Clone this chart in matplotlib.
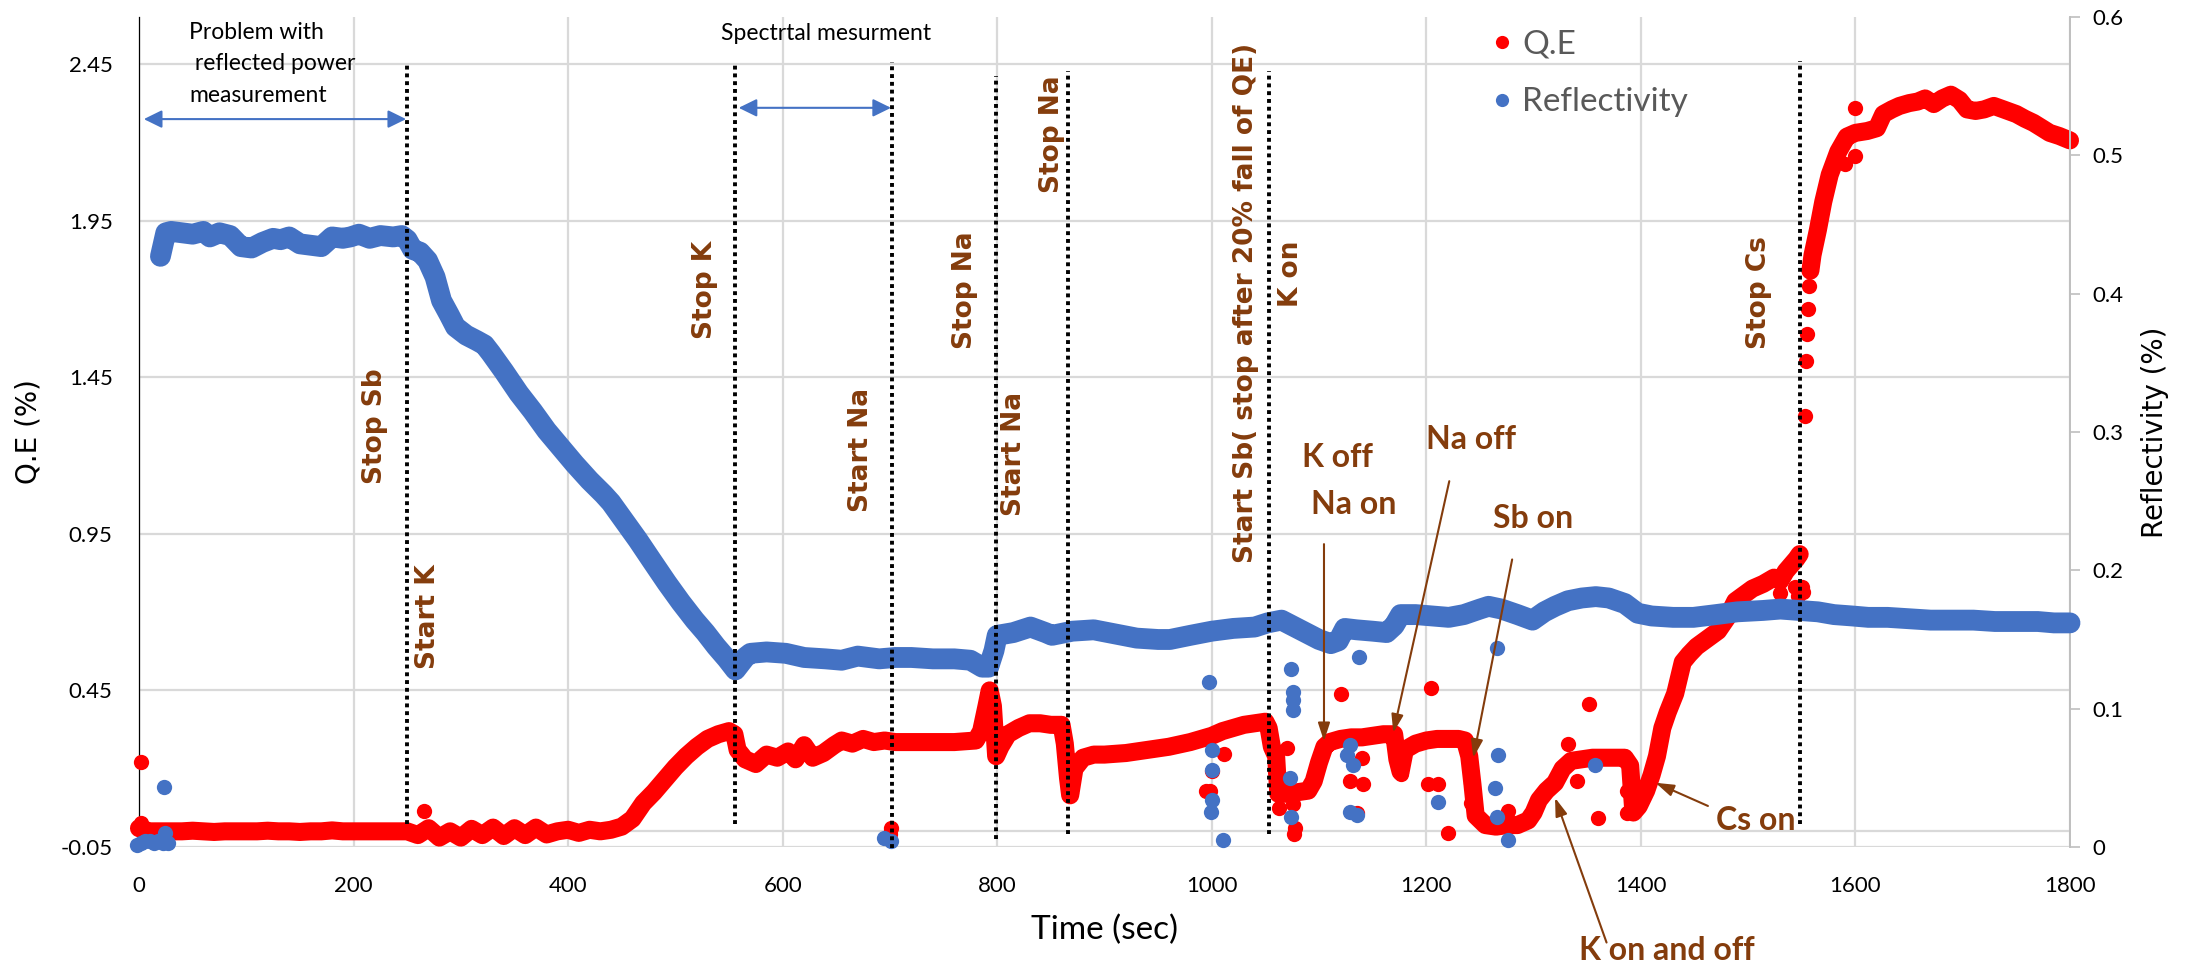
import matplotlib
matplotlib.use("Agg")
import matplotlib.pyplot as plt
from matplotlib.lines import Line2D

RED = "#FF0000"
BLUE = "#4472C4"
BROWN = "#843C0C"
GRID = "#D9D9D9"

# ---- Q.E trace (time [s], Q.E [%]) ----
QE_T1 = [0, 10, 20, 30, 40, 50, 60, 70, 80, 90, 100, 110, 120, 130, 140, 150, 160, 170, 180, 190,
         200, 210, 220, 230, 240, 250, 260, 270, 280, 290, 300, 310, 320, 330, 340, 350, 360, 370,
         380, 390, 400, 410, 420, 430, 440, 450, 460, 470, 480, 490, 500, 510, 520, 530, 540, 550,
         555, 558, 565, 575, 585, 595, 605, 612, 620, 628, 638, 648, 655, 665, 675, 685, 695, 705,
         720, 740, 760, 780, 785, 790, 793, 796, 799, 803, 810, 820, 830, 840, 850, 860, 863, 866,
         868, 872, 880, 890, 900, 920, 940, 960, 980, 1000, 1010, 1020, 1030, 1040, 1050, 1053,
         1056, 1060, 1062, 1070, 1080, 1090, 1095, 1100, 1105, 1110, 1120, 1130, 1140, 1150, 1160,
         1170, 1173, 1176, 1180, 1190, 1200, 1210, 1220, 1230, 1236, 1240, 1243, 1246, 1255, 1265,
         1275, 1285, 1295, 1300, 1305, 1312, 1320, 1327, 1335, 1345, 1355, 1365, 1375, 1385, 1390,
         1393, 1398, 1405, 1410, 1415, 1420, 1425, 1432, 1439, 1445, 1452, 1462, 1472, 1480, 1488,
         1496, 1504, 1514, 1524, 1530, 1535, 1540, 1545, 1548]
QE_V1 = [0.01, 0.0, 0.0, 0.0, 0.0, 0.002, 0.0, -0.002, 0.0, 0.0, 0.0, 0.0, 0.002, 0.0, 0.0, -0.002,
         0.0, 0.0, 0.003, 0.0, 0.0, 0.0, 0.0, 0.0, 0.0, 0.0, -0.012, 0.01, -0.02, 0.0, -0.02, 0.008,
         -0.012, 0.012, -0.015, 0.01, -0.012, 0.012, -0.01, 0.0, 0.005, -0.005, 0.005, 0.0, 0.005,
         0.015, 0.04, 0.09, 0.125, 0.165, 0.205, 0.24, 0.27, 0.295, 0.31, 0.32,
         0.31, 0.26, 0.23, 0.215, 0.245, 0.235, 0.255, 0.23, 0.275, 0.235, 0.25, 0.275, 0.29, 0.28,
         0.295, 0.285, 0.29, 0.285, 0.285, 0.285, 0.285, 0.29, 0.32, 0.40, 0.45, 0.40, 0.24, 0.27,
         0.31, 0.33, 0.345, 0.345, 0.34, 0.34, 0.28, 0.17, 0.115, 0.2, 0.235, 0.245, 0.245, 0.25,
         0.26, 0.27, 0.285, 0.305, 0.32, 0.33, 0.34, 0.345, 0.35, 0.33, 0.27, 0.24, 0.12, 0.12,
         0.125, 0.13, 0.16, 0.22, 0.27, 0.285, 0.295, 0.30, 0.30, 0.305, 0.31, 0.31, 0.23, 0.19,
         0.26, 0.28, 0.29, 0.295, 0.295, 0.295, 0.29, 0.24, 0.15, 0.05, 0.02, 0.015, 0.02, 0.02,
         0.035, 0.06, 0.1, 0.13, 0.155, 0.2, 0.225, 0.23, 0.235, 0.235, 0.235, 0.235, 0.21, 0.06,
         0.08, 0.13, 0.18, 0.24, 0.33, 0.38, 0.44, 0.54, 0.565, 0.59, 0.615, 0.64, 0.68, 0.735,
         0.755, 0.775, 0.79, 0.81, 0.80, 0.83, 0.85, 0.87, 0.885]
QE_T2 = [1558, 1560, 1565, 1570, 1576, 1584, 1592, 1600, 1611, 1620, 1626, 1634, 1641, 1650, 1658,
         1665, 1673, 1681, 1689, 1697, 1704, 1712, 1720, 1729, 1738, 1750, 1758, 1766, 1774, 1781,
         1790, 1800]
QE_V2 = [1.79, 1.84, 1.92, 2.01, 2.096, 2.17, 2.218, 2.23, 2.236, 2.245, 2.29, 2.305, 2.316, 2.325,
         2.33, 2.34, 2.322, 2.34, 2.352, 2.335, 2.305, 2.30, 2.305, 2.316, 2.305, 2.29, 2.275, 2.262,
         2.245, 2.23, 2.22, 2.206]
QE_OUT_T = [2, 1.5, 266, 700, 701, 995, 998, 1000, 1011, 1059, 1063, 1070, 1076, 1078, 1077, 1120,
            1129, 1135, 1140, 1141, 1176, 1202, 1204, 1211, 1220, 1242, 1242, 1276, 1332, 1340, 1352,
            1360, 1387, 1387, 1530, 1544, 1546, 1550, 1551, 1553, 1554, 1555, 1556, 1557, 1590,
            1600, 1600]
QE_OUT_V = [0.221, 0.027, 0.065, -0.01, 0.012, 0.129, 0.13, 0.193, 0.248, 0.193, 0.075, 0.267, 0.086,
            0.012, -0.01, 0.44, 0.16, 0.06, 0.235, 0.15, 0.182, 0.15, 0.459, 0.15, -0.004, 0.155,
            0.091, 0.065, 0.278, 0.16, 0.406, 0.044, 0.129, 0.06, 0.76, 0.78, 0.75, 0.78, 0.765,
            1.326, 1.503, 1.589, 1.668, 1.741, 2.13, 2.31, 2.157]

# ---- Reflectivity trace (time [s], reflectivity [%]) ----
REF_T = [20, 25, 30, 40, 50, 60, 66, 75, 85, 95, 105, 115, 125, 132, 140, 150, 160, 170, 180, 190,
         197, 205, 215, 225, 237, 245, 250, 255, 262, 269, 276, 282, 289, 295, 305, 315, 322, 328,
         340, 354, 367, 380, 393, 406, 420, 433, 440, 452, 465, 478, 492, 505, 518, 528, 538, 548,
         556, 560, 565, 570, 585, 603, 620, 640, 655, 670, 690, 705, 720, 740, 760, 775, 786, 792,
         797, 800, 815, 831, 845, 851, 870, 890, 910, 930, 950, 961, 980, 1000, 1020, 1040, 1052,
         1065, 1075, 1090, 1100, 1111, 1118, 1124, 1135, 1150, 1163, 1170, 1176, 1190, 1205, 1221,
         1235, 1250, 1258, 1270, 1285, 1299, 1310, 1320, 1332, 1345, 1358, 1370, 1385, 1397, 1410,
         1430, 1449, 1470, 1490, 1514, 1530, 1548, 1565, 1580, 1597, 1612, 1630, 1650, 1670, 1690,
         1710, 1730, 1750, 1770, 1785, 1800]
REF_V = [0.427, 0.444, 0.445, 0.444, 0.443, 0.445, 0.441, 0.444, 0.442, 0.434, 0.433, 0.437, 0.440,
         0.439, 0.441, 0.436, 0.435, 0.434, 0.441, 0.440, 0.441, 0.443, 0.440, 0.442, 0.441, 0.442,
         0.439, 0.432, 0.430, 0.424, 0.412, 0.395, 0.385, 0.376, 0.370, 0.366, 0.363, 0.357, 0.344,
         0.328, 0.315, 0.301, 0.289, 0.277, 0.265, 0.255, 0.249, 0.236, 0.222, 0.207, 0.191, 0.177,
         0.164, 0.155, 0.145, 0.136, 0.128, 0.132, 0.137, 0.140, 0.141, 0.140, 0.137, 0.136, 0.135,
         0.138, 0.136, 0.137, 0.137, 0.136, 0.136, 0.135, 0.130, 0.130, 0.142, 0.153, 0.155, 0.159,
         0.155, 0.153, 0.156, 0.157, 0.154, 0.151, 0.150, 0.150, 0.153, 0.156, 0.158, 0.159, 0.162,
         0.164, 0.160, 0.154, 0.150, 0.147, 0.149, 0.158, 0.157, 0.156, 0.155, 0.160, 0.168, 0.168,
         0.167, 0.166, 0.168, 0.172, 0.174, 0.172, 0.168, 0.164, 0.170, 0.174, 0.178, 0.180, 0.181,
         0.180, 0.176, 0.169, 0.167, 0.166, 0.166, 0.168, 0.170, 0.171, 0.172, 0.171, 0.170, 0.168,
         0.167, 0.166, 0.166, 0.165, 0.164, 0.164, 0.164, 0.163, 0.163, 0.163, 0.162, 0.162]
REF_OUT_T = [-2, 2, 6, 10, 14, 18, 22, 23, 24, 27, 694, 701, 997, 1010, 1000, 1000, 1000, 999, 1074,
             1076, 1076, 1076, 1073, 1074, 1129, 1126, 1132, 1129, 1135, 1137, 1211, 1266, 1267,
             1264, 1266, 1276, 1357]
REF_OUT_V = [0.0015, 0.003, 0.004, 0.004, 0.003, 0.004, 0.003, 0.0436, 0.01, 0.003, 0.0065, 0.004,
             0.1195, 0.005, 0.070, 0.0557, 0.034, 0.0255, 0.129, 0.112, 0.106, 0.099, 0.0497, 0.022,
             0.0737, 0.0665, 0.059, 0.0255, 0.023, 0.1376, 0.0328, 0.1436, 0.0665, 0.0424, 0.022,
             0.005, 0.059]

X_TICKS = [0, 200, 400, 600, 800, 1000, 1200, 1400, 1600, 1800]
QE_TICKS = [-0.05, 0.45, 0.95, 1.45, 1.95, 2.45]
REF_TICKS = [0, 0.1, 0.2, 0.3, 0.4, 0.5, 0.6]

# dotted event markers: time, bottom, top (in Q.E units)
EVENT_T = [250, 556, 702, 799, 866, 1053, 1548]
EVENT_Y0 = [0.023, 0.023, -0.053, -0.025, -0.008, -0.008, 0.023]
EVENT_Y1 = [2.456, 2.456, 2.456, 2.41, 2.428, 2.428, 2.46]

plt.rcParams["font.family"] = ["Lato", "DejaVu Sans"]

fig = plt.figure(figsize=(22.01, 9.67), dpi=100)
ax = fig.add_axes([0.06315, 0.12410, 0.87733, 0.85833])
ax2 = ax.twinx()

ax.set_xlim(0, 1800)
ax.set_ylim(-0.05, 2.60)
ax2.set_ylim(0, 0.6)

ax.set_xticks(X_TICKS)
ax.set_yticks(QE_TICKS)
ax.set_yticklabels([f"{v:.2f}" for v in QE_TICKS])
ax2.set_yticks(REF_TICKS)
ax2.set_yticklabels(["0"] + [f"{v:.1f}" for v in REF_TICKS[1:]])

ax.grid(True, color=GRID, lw=1.6)
ax.set_axisbelow(True)
ax.axhline(0, color=GRID, lw=1.6, zorder=0.5)

for s in ["top", "bottom", "right"]:
    ax.spines[s].set_visible(False)
ax.spines["left"].set_color("black")
ax.spines["left"].set_linewidth(0.9)
for s in ["top", "bottom", "left"]:
    ax2.spines[s].set_visible(False)
ax2.spines["right"].set_color("#BFBFBF")
ax2.spines["right"].set_linewidth(1.4)

ax.tick_params(axis="x", length=0, pad=21, labelsize=16)
ax.tick_params(axis="y", length=0, pad=19, labelsize=16)
ax2.tick_params(axis="y", length=7, width=1.2, color="#BFBFBF", pad=9, labelsize=16)

ax.set_xlabel("Time (sec)", fontsize=24)
ax.xaxis.set_label_coords(0.5, -0.082)
ax.set_ylabel("Q.E (%)", fontsize=20, family="DejaVu Sans")
ax.yaxis.set_label_coords(-0.050, 0.5)
ax2.set_ylabel("Reflectivity (%)", fontsize=20, family="DejaVu Sans")
ax2.yaxis.set_label_coords(1.037, 0.5)

# data
band = dict(solid_capstyle="round", solid_joinstyle="round", clip_on=False)
ax.plot(QE_T1, QE_V1, color=RED, lw=13, zorder=3, **band)
ax.plot(QE_T2, QE_V2, color=RED, lw=13, zorder=3, **band)
ax.plot(QE_OUT_T, QE_OUT_V, "o", color=RED, ms=11, mec="none", zorder=3, clip_on=False)
ax2.plot(REF_T, REF_V, color=BLUE, lw=15, zorder=3, **band)
ax2.plot(REF_OUT_T, REF_OUT_V, "o", color=BLUE, ms=11, mec="none", zorder=3, clip_on=False)

tr = ax.transData

# event lines
for t, y0, y1 in zip(EVENT_T, EVENT_Y0, EVENT_Y1):
    ax2.plot([t, t], [y0, y1], color="black", lw=2.8, linestyle=(0, (1, 1)),
             transform=tr, zorder=6, clip_on=False)

# rotated event labels
rot_labels = [
    ("Stop Sb", 220, 1.294), ("Start K", 269, 0.684), ("Stop K", 527.6, 1.728),
    ("Start Na", 673, 1.218), ("Stop Na", 769.6, 1.728), ("Start Na", 816, 1.205),
    ("Stop Na", 851, 2.226), ("Start Sb( stop after 20% fall of QE)", 1031.6, 1.687),
    ("K on", 1074, 1.781), ("Stop Cs", 1510, 1.72),
]
for s, x, y in rot_labels:
    ax2.text(x, y, s, transform=tr, rotation=90, ha="center", va="center", color=BROWN,
             fontsize=19, fontweight="bold", family="DejaVu Sans", zorder=7)

# horizontal notes with arrows
notes = [
    ("K off", 1117.6, 1.192, None, None),
    ("Na on", 1132.7, 1.045, (1104.6, 0.917), (1104.6, 0.288)),
    ("Na off", 1241.6, 1.25, (1221.4, 1.118), (1169.2, 0.315)),
    ("Sb on", 1299.4, 1.0, (1280, 0.868), (1243.8, 0.235)),
    ("Cs on", 1507, 0.036, (1462.5, 0.081), (1413.7, 0.155)),
    ("K on and off", 1424, -0.382, (1368, -0.355), (1320, 0.107)),
]
for s, x, y, start, tip in notes:
    ax2.text(x, y, s, transform=tr, ha="center", va="center", color=BROWN,
             fontsize=23, fontweight="bold", zorder=7)
    if start is not None:
        ax2.annotate("", xy=tip, xytext=start, xycoords=tr, textcoords=tr,
                     arrowprops=dict(arrowstyle="-|>,head_length=0.55,head_width=0.18",
                                     color=BROWN, lw=1.5, shrinkA=0, shrinkB=0,
                                     mutation_scale=20), zorder=7)

# double arrows with captions
for x0, x1, y in [(4.5, 249, 2.274), (559, 701, 2.31)]:
    ax2.annotate("", xy=(x1, y), xytext=(x0, y), xycoords=tr, textcoords=tr,
                 arrowprops=dict(arrowstyle="<|-|>,head_length=0.55,head_width=0.27",
                                 color=BLUE, lw=1.5, shrinkA=0, shrinkB=0,
                                 mutation_scale=20), zorder=7)
ax2.text(47, 2.45, "Problem with\n reflected power\nmeasurement", transform=tr, ha="left",
         va="center", fontsize=16.5, linespacing=1.6, zorder=7)
ax2.text(640.4, 2.546, "Spectrtal mesurment", transform=tr, ha="center", va="center",
         fontsize=16.5, zorder=7)

handles = [Line2D([], [], marker="o", ls="", color=RED, ms=9.5, mec="none"),
           Line2D([], [], marker="o", ls="", color=BLUE, ms=9.5, mec="none")]
fig.legend(handles, ["Q.E", "Reflectivity"], loc="upper left",
           bbox_to_anchor=(1492 / 2201, 1 - 30 / 967), frameon=False, fontsize=24,
           labelcolor="#595959", handlelength=0.6, handletextpad=0.3, borderpad=0,
           borderaxespad=0, labelspacing=0.82)

fig.savefig("out.png", dpi=100)
